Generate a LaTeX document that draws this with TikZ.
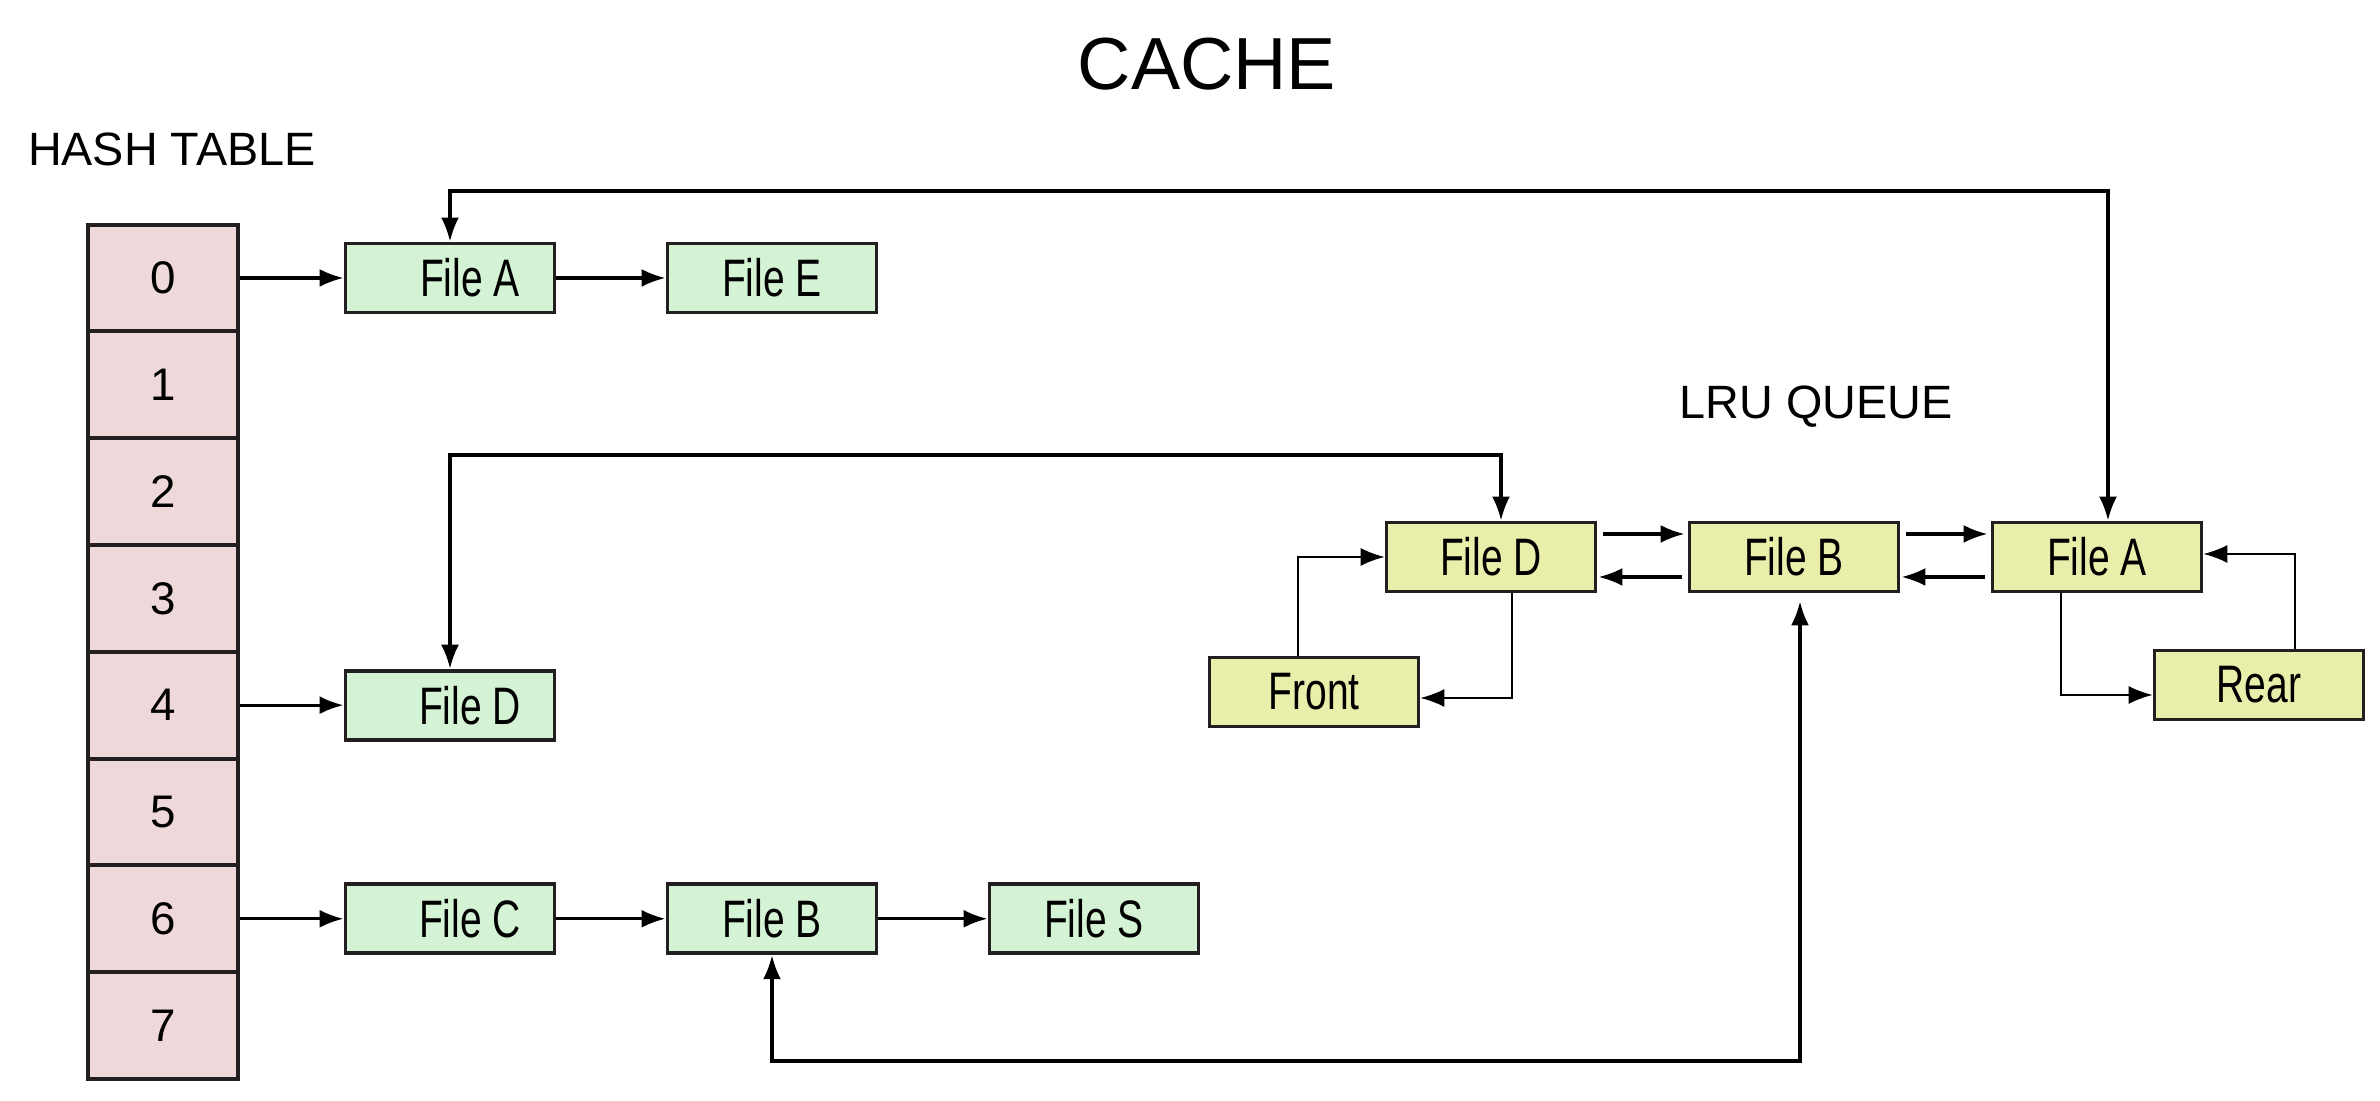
\documentclass[tikz,border=0pt]{standalone}
\usepackage{fontspec}
\setmainfont{Liberation Sans}
\newfontfamily\condfont[FakeStretch=0.74]{Liberation Sans}
\usepackage{tikz}
\usetikzlibrary{arrows.meta,positioning}

\definecolor{cellpink}{HTML}{EFD8D9}
\definecolor{filegreen}{HTML}{D4F2D4}
\definecolor{queueyellow}{HTML}{E9EFAB}
\definecolor{inkdark}{HTML}{231F20}

\begin{document}
\begin{tikzpicture}[
                    -,
                    auto,
                    node distance=3.22cm,
                    semithick,
                    >={Latex[length=2.4mm,width=1.8mm]},
                    cell/.style={draw=inkdark, line width=1.1pt, fill=cellpink,
                        minimum width=1.5cm, minimum height=1.068cm,
                        font=\fontsize{13}{15}\selectfont},
                    filebox/.style={draw=inkdark, line width=1.1pt,
                        minimum width=2.09cm, minimum height=0.69cm, inner sep=0pt,
                        font=\condfont\fontsize{15}{17}\selectfont},
                    hfile/.style={filebox, fill=filegreen},
                    qfile/.style={filebox, fill=queueyellow},
                    title/.style={inner sep=0pt, font=\fontsize{13.3}{15}\selectfont},
                    link/.style={line width=0.9pt},
                    thinlink/.style={line width=0.5pt}
                ]
                \useasboundingbox (0,0) rectangle (23.80,11.01);

                % titles
                \node (cache) [inner sep=0pt, font=\fontsize{21}{25}\selectfont] at (12.07,10.37) {CACHE} ;
                \node (hashtitle) [title, anchor=west] at (0.27,9.52) {HASH TABLE} ;
                \node (lrutitle) [title] at (18.16,6.94) {LRU QUEUE} ;

                % hash table
                \begin{scope}[node distance=1.068cm]
                \node (t0) [cell] at (1.632,8.23) {0} ;
                \node (t1) [cell, below of=t0] {1} ;
                \node (t2) [cell, below of=t1] {2} ;
                \node (t3) [cell, below of=t2] {3} ;
                \node (t4) [cell, below of=t3] {4} ;
                \node (t5) [cell, below of=t4] {5} ;
                \node (t6) [cell, below of=t5] {6} ;
                \node (t7) [cell, below of=t6] {7} ;
                \end{scope}

                % chains
                \node (ha) [hfile] at (4.50,8.23) {\hspace{0.4cm}File A} ;
                \node (he) [hfile, right of=ha] {File E} ;
                \node (hd) [hfile] at (ha |- t4) {\hspace{0.4cm}File D} ;
                \node (hc) [hfile] at (ha |- t6) {\hspace{0.4cm}File C} ;
                \node (hb) [hfile, right of=hc] {File B} ;
                \node (hs) [hfile, right of=hb] {File S} ;

                % LRU queue
                \node (qd) [qfile] at (14.91,5.44) {File D} ;
                \node (qb) [qfile, right of=qd, node distance=3.03cm] {File B} ;
                \node (qa) [qfile, right of=qb, node distance=3.03cm] {File A} ;
                \node (front) [qfile] at (13.14,4.09) {Front} ;
                \node (rear) [qfile] at (22.59,4.16) {Rear} ;

                \coordinate (topline) at (0,9.10) ;
                \coordinate (midline) at (0,6.46) ;
                \coordinate (lowline) at (0,0.40) ;

                \path[link, ->]
                (t0) edge (ha)
                (ha) edge (he)
                (t4) edge (hd)
                (t6) edge (hc)
                (hc) edge (hb)
                (hb) edge (hs)
                ;

                % links between table and queue
                \draw[link, <->] (ha.north) -- (ha.north |- topline) -| ([xshift=0.11cm]qa.north) ;
                \draw[link, <->] (hd.north) -- (hd.north |- midline) -| ([xshift=0.10cm]qd.north) ;
                \draw[link, <->] (hb.south) -- (hb.south |- lowline) -| ([xshift=0.06cm,yshift=-0.08cm]qb.south) ;

                % queue links
                \draw[link, ->] ([xshift=0.06cm,yshift=0.23cm]qd.east) -- ([xshift=-0.03cm,yshift=0.23cm]qb.west) ;
                \draw[link, ->] ([xshift=-0.06cm,yshift=-0.20cm]qb.west) -- ([xshift=0.01cm,yshift=-0.20cm]qd.east) ;
                \draw[link, ->] ([xshift=0.06cm,yshift=0.23cm]qb.east) -- ([xshift=-0.03cm,yshift=0.23cm]qa.west) ;
                \draw[link, ->] ([xshift=-0.06cm,yshift=-0.20cm]qa.west) -- ([xshift=0.01cm,yshift=-0.20cm]qb.east) ;

                \draw[thinlink, ->] ([xshift=-0.16cm]front.north) |- (qd.west) ;
                \draw[thinlink, ->] ([xshift=0.21cm]qd.south) |- ([yshift=-0.06cm]front.east) ;
                \draw[thinlink, ->] ([xshift=-0.36cm]qa.south) |- ([yshift=-0.10cm]rear.west) ;
                \draw[thinlink, ->] ([xshift=0.36cm]rear.north) |- ([yshift=0.03cm]qa.east) ;
            \end{tikzpicture}
\end{document}
